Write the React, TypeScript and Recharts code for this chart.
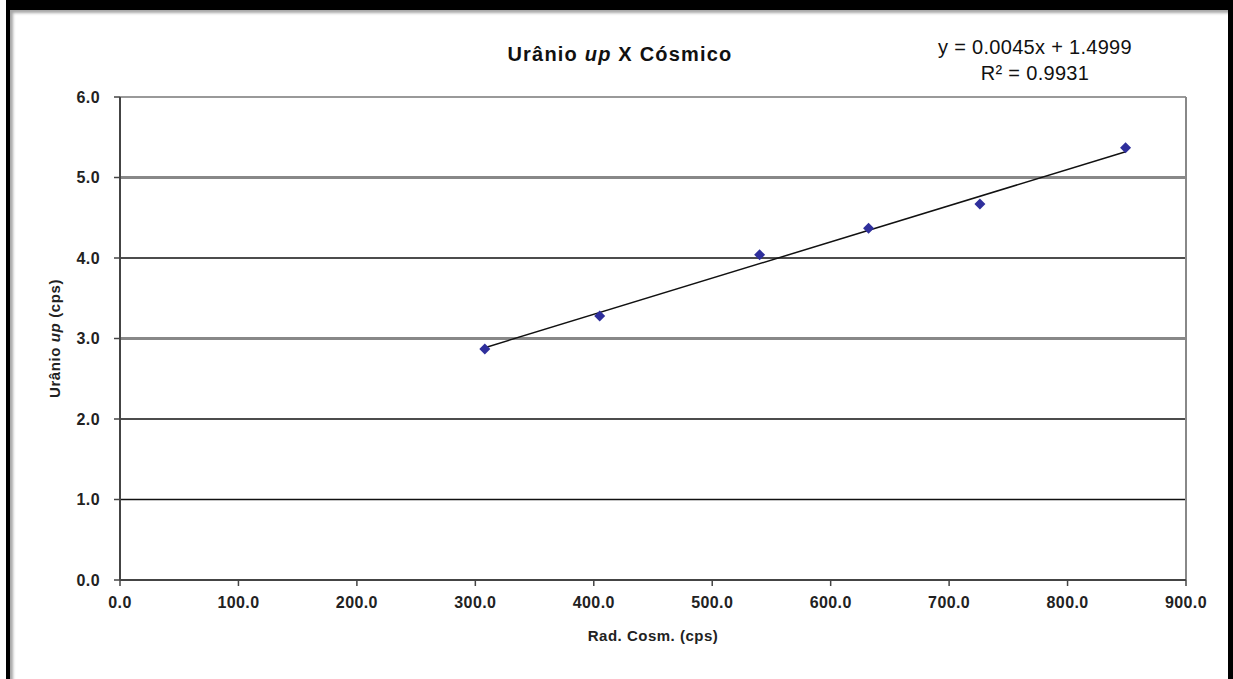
import {
  ScatterChart,
  Scatter,
  XAxis,
  YAxis,
  ReferenceLine,
  Label,
} from "recharts";

// Rad. Cosm. (cps) vs Urânio up (cps)
const cosmic = [308, 405, 540, 632, 726, 849];
const uranium = [2.87, 3.28, 4.04, 4.37, 4.67, 5.37];

// linear trend endpoints
const trendX = [308, 849];
const trendY = [2.886, 5.32];

const xTicks = [0, 100, 200, 300, 400, 500, 600, 700, 800, 900];
const yTicks = [0, 1, 2, 3, 4, 5, 6];

const points = cosmic.map((x, i) => ({ x, y: uranium[i] }));
const trend = trendX.map((x, i) => ({ x, y: trendY[i] }));

const FONT = "Arial, 'Liberation Sans', sans-serif";
const tickStyle = { fontSize: 16, fontWeight: 700, fill: "#222", fontFamily: FONT, letterSpacing: 0.4 };

// Excel-ish alternating gridline look
const gridStyle = (v: number) =>
  v === 5 || v === 3
    ? { stroke: "#888", strokeWidth: 3 }
    : v === 6
    ? { stroke: "#777", strokeWidth: 1.5 }
    : { stroke: "#111", strokeWidth: 1.5 };

const Diamond = (props: any) => {
  const { cx, cy } = props;
  const r = 5.5;
  return (
    <polygon
      points={`${cx},${cy - r} ${cx + r},${cy} ${cx},${cy + r} ${cx - r},${cy}`}
      fill="#2f2f9c"
    />
  );
};

const YTitle = (props: any) => {
  const vb = props.viewBox || { x: 0, y: 97, width: 120, height: 483 };
  const x = vb.x + 56;
  const y = vb.y + vb.height / 2;
  return (
    <text
      x={x}
      y={y}
      transform={`rotate(-90 ${x} ${y})`}
      textAnchor="middle"
      dominantBaseline="middle"
      fontFamily={FONT}
      fontSize={15}
      fontWeight={700}
      fill="#222"
      letterSpacing={0.6}
    >
      <tspan>Urânio </tspan>
      <tspan fontStyle="italic">up</tspan>
      <tspan> (cps)</tspan>
    </text>
  );
};

export default function App() {
  return (
    <div style={{ position: "absolute", left: 0, top: 0, width: 1233, height: 679, background: "#fff", overflow: "hidden" }}>
      <ScatterChart width={1233} height={679} margin={{ top: 97, right: 47, bottom: 0, left: 0 }}>
        <XAxis
          type="number"
          dataKey="x"
          domain={[0, 900]}
          ticks={xTicks}
          tickFormatter={(v: number) => v.toFixed(1)}
          height={99}
          tickSize={6}
          tickMargin={11}
          axisLine={{ stroke: "#444", strokeWidth: 2 }}
          tickLine={{ stroke: "#444", strokeWidth: 1.5 }}
          tick={tickStyle}
          interval={0}
        >
          <Label
            value="Rad. Cosm. (cps)"
            position="insideTop"
            offset={50}
            style={{ fontFamily: FONT, fontSize: 15, fontWeight: 700, fill: "#222", letterSpacing: 0.5 }}
          />
        </XAxis>
        <YAxis
          type="number"
          dataKey="y"
          domain={[0, 6]}
          ticks={yTicks}
          tickFormatter={(v: number) => v.toFixed(1)}
          width={120}
          tickSize={6}
          tickMargin={14}
          axisLine={{ stroke: "#444", strokeWidth: 2 }}
          tickLine={{ stroke: "#444", strokeWidth: 1.5 }}
          tick={tickStyle}
          interval={0}
        >
          <Label content={<YTitle />} />
        </YAxis>
        {yTicks.filter((v) => v > 0).map((v) => (
          <ReferenceLine key={v} y={v} {...gridStyle(v)} />
        ))}
        <ReferenceLine x={900} stroke="#888" strokeWidth={2} />
        <ReferenceLine segment={trend} stroke="#111" strokeWidth={1.5} />
        <Scatter data={points} shape={<Diamond />} isAnimationActive={false} />
      </ScatterChart>

      <div
        style={{
          position: "absolute",
          left: 0,
          width: 1240,
          top: 43,
          textAlign: "center",
          fontFamily: FONT,
          fontSize: 20,
          fontWeight: 700,
          color: "#111",
          letterSpacing: 1.2,
        }}
      >
        Urânio <i>up</i> X Cósmico
      </div>
      <div
        style={{
          position: "absolute",
          left: 925,
          width: 220,
          top: 34,
          textAlign: "center",
          fontFamily: FONT,
          fontSize: 20,
          lineHeight: "26px",
          color: "#111",
          letterSpacing: 0.3,
        }}
      >
        y = 0.0045x + 1.4999
        <br />
        R² = 0.9931
      </div>

      <div
        style={{
          position: "absolute",
          left: 6,
          top: 0,
          width: 1227,
          height: 720,
          boxSizing: "border-box",
          borderTop: "10px solid #000",
          borderLeft: "4px solid #000",
          borderRight: "5px solid #000",
          boxShadow: "inset 3px 3px 3px rgba(0,0,0,0.35)",
          pointerEvents: "none",
        }}
      />
    </div>
  );
}
